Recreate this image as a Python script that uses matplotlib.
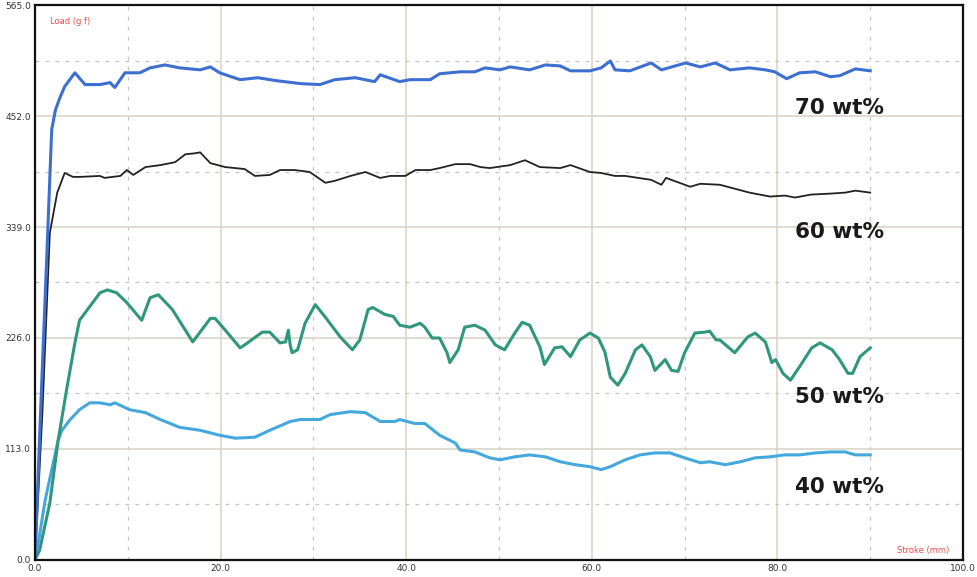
import matplotlib
matplotlib.use("Agg")
import matplotlib.pyplot as plt
from matplotlib.ticker import MultipleLocator

# ---- data ----
x70 = [0.0, 0.6, 1.3, 1.8, 2.2, 2.7, 3.2, 4.3, 5.4, 7.0, 8.1, 8.6, 9.7, 11.3, 12.4, 14.0, 15.6, 17.8, 18.9,
       19.9, 22.1, 24.0, 26.0, 28.6, 30.7, 32.3, 34.5, 36.6, 37.2, 39.3, 40.4, 42.6, 43.6, 45.8, 47.4, 48.5,
       50.1, 51.2, 53.3, 55.0, 56.6, 57.7, 59.8, 61.0, 62.0, 62.5, 64.1, 66.4, 67.5, 70.1, 71.7, 73.3, 74.9,
       77.0, 78.7, 79.7, 81.0, 82.4, 84.1, 85.7, 86.7, 88.4, 90.0]
y70 = [0, 150, 316, 438, 458, 471, 482, 496, 484, 484, 486, 481, 496, 496, 501, 504, 501, 499, 502,
       496, 489, 491, 488, 485, 484, 489, 491, 487, 494, 487, 489, 489, 495, 497, 497, 501,
       499, 502, 499, 504, 503, 498, 498, 501, 508, 499, 498, 506, 499, 506, 502, 506, 499,
       501, 499, 497, 490, 496, 497, 492, 493, 500, 498]

x60 = [0.0, 0.8, 1.6, 2.4, 3.2, 4.1, 4.8, 7.0, 7.5, 9.2, 9.9, 10.6, 11.9, 13.5, 15.1, 16.2, 17.2, 17.8, 18.9,
       20.5, 22.6, 23.7, 25.3, 26.4, 28.0, 29.6, 31.3, 32.3, 34.0, 35.6, 37.2, 38.3, 39.9, 41.0, 42.6, 43.6,
       45.3, 46.9, 48.0, 49.0, 51.2, 52.8, 54.4, 56.6, 57.7, 59.8, 61.0, 62.5, 63.6, 66.4, 67.5, 68.0, 70.6,
       71.7, 73.8, 77.0, 79.2, 80.8, 81.9, 83.6, 85.7, 87.3, 88.4, 90.0]
y60 = [0, 150, 333, 374, 394, 390, 390, 391, 389, 391, 397, 392, 400, 402, 405, 413, 414, 415, 404,
       400, 398, 391, 392, 397, 397, 395, 384, 386, 391, 395, 389, 391, 391, 397, 397, 399,
       403, 403, 400, 399, 402, 407, 400, 399, 402, 395, 394, 391, 391, 387, 382, 389, 380,
       383, 382, 374, 370, 371, 369, 372, 373, 374, 376, 374]

x50 = [0.0, 0.5, 1.6, 2.5, 3.4, 4.3, 4.8, 5.9, 7.0, 7.8, 8.8, 9.9, 11.5, 12.4, 13.3, 14.8, 17.0, 18.9, 19.4,
       20.5, 22.1, 22.6, 24.5, 25.3, 26.4, 27.0, 27.3, 27.5, 27.7, 28.3, 29.1, 30.2, 31.3, 32.9, 34.2, 35.0,
       35.9, 36.4, 37.7, 38.6, 39.3, 40.4, 41.5, 42.0, 42.8, 43.6, 44.4, 44.7, 45.6, 46.3, 47.4, 48.5, 49.6,
       50.6, 51.7, 52.5, 53.3, 54.4, 54.9, 56.0, 56.8, 57.7, 58.7, 59.8, 60.7, 61.4, 62.0, 62.8, 63.6, 64.7,
       65.4, 66.3, 66.8, 67.9, 68.6, 69.3, 70.0, 71.1, 72.2, 72.7, 73.4, 73.8, 75.4, 76.8, 77.6, 78.7, 79.4,
       79.8, 80.6, 81.4, 82.4, 83.7, 84.6, 85.9, 86.7, 87.6, 88.1, 88.9, 90.0]
y50 = [0, 10, 58, 122, 173, 221, 244, 258, 272, 275, 272, 262, 244, 267, 270, 255, 222, 246, 246,
       234, 216, 219, 232, 232, 221, 222, 234, 219, 211, 214, 241, 260, 247, 227, 214, 224,
       255, 257, 250, 248, 239, 237, 241, 237, 226, 226, 211, 201, 214, 237, 239, 234, 219,
       214, 231, 242, 239, 217, 199, 216, 217, 207, 224, 231, 226, 212, 186, 178, 190, 214,
       219, 207, 193, 204, 193, 192, 211, 231, 232, 233, 224, 224, 211, 227, 231, 222, 201,
       204, 190, 183, 197, 216, 221, 214, 204, 190, 190, 207, 216]

x40 = [0.0, 0.4, 1.1, 2.5, 2.9, 3.8, 4.8, 5.9, 7.0, 8.1, 8.6, 10.2, 11.9, 13.5, 15.6, 17.8, 19.9, 21.6, 23.7,
       25.3, 27.5, 28.6, 30.7, 31.8, 34.0, 35.6, 37.2, 38.8, 39.3, 40.9, 42.0, 43.6, 45.3, 45.8, 47.4, 49.0,
       50.1, 51.7, 53.3, 55.0, 56.6, 58.2, 59.8, 61.0, 62.0, 63.6, 65.2, 66.8, 68.4, 70.0, 71.7, 72.7, 74.4,
       76.0, 77.6, 79.2, 80.8, 82.4, 84.1, 85.7, 87.3, 88.4, 90.0]
y40 = [0, 20, 61, 122, 132, 143, 153, 160, 160, 158, 160, 153, 150, 143, 135, 132, 127, 124, 125,
       132, 141, 143, 143, 148, 151, 150, 141, 141, 143, 139, 139, 127, 119, 112, 110, 104,
       102, 105, 107, 105, 100, 97, 95, 92, 95, 102, 107, 109, 109, 104, 99, 100, 97,
       100, 104, 105, 107, 107, 109, 110, 110, 107, 107]

labels = ["70 wt%", "60 wt%", "50 wt%", "40 wt%"]
label_y = [460, 334, 166, 74]
yticks = [0.0, 113.0, 226.0, 339.0, 452.0, 565.0]
xticks = [0.0, 20.0, 40.0, 60.0, 80.0, 100.0]

# ---- figure ----
fig = plt.figure(figsize=(9.77, 5.77), dpi=100)
ax = fig.add_axes([0.0358, 0.0295, 0.9499, 0.9618])

ax.set_xlim(0, 100)
ax.set_ylim(0, 565)
ax.set_xticks(xticks)
ax.set_yticks(yticks)
ax.xaxis.set_minor_locator(MultipleLocator(10))
ax.yaxis.set_minor_locator(MultipleLocator(56.5))
ax.set_xticklabels([f"{v:.1f}" for v in xticks])
ax.set_yticklabels([f"{v:.1f}" for v in yticks])
ax.tick_params(which="both", length=0, labelsize=6.5, labelcolor="#333333", pad=3)
ax.grid(which="major", color="#d9d5c9", linewidth=1.2, linestyle="-")
ax.grid(which="minor", color="#c4c4c4", linewidth=0.9, linestyle=(0, (3, 5)))
ax.set_axisbelow(True)
for s in ax.spines.values():
    s.set_color("#111111")
    s.set_linewidth(1.6)

ax.plot(x40, y40, color="#44a8dc", lw=2.2)
ax.plot(x50, y50, color="#2f977a", lw=2.2)
ax.plot(x60, y60, color="#222222", lw=1.3)
ax.plot(x70, y70, color="#3d6fd0", lw=2.2)

for lab, yy in zip(labels, label_y):
    ax.text(81.9, yy, lab, fontsize=15.5, fontweight="bold", family="DejaVu Sans",
            color="#1a1a1a", va="center", ha="left")

ax.text(1.6, 548, "Load (g f)", fontsize=6, color="#e85050", va="center", ha="left")
ax.text(98.5, 10, "Stroke (mm)", fontsize=6, color="#e85050", va="center", ha="right")

fig.savefig("out.png", dpi=100)
